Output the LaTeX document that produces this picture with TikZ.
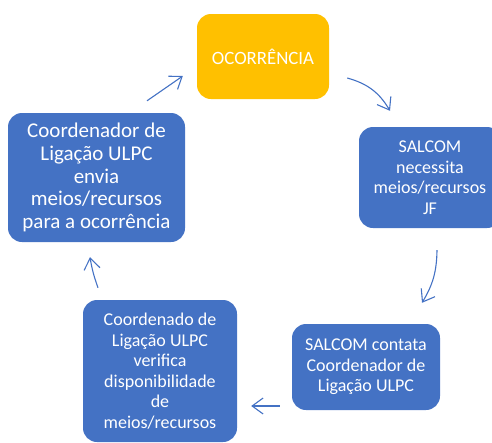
\documentclass[tikz,border=0pt]{standalone}
\usepackage{fontspec}
\setmainfont{Carlito}
\usetikzlibrary{arrows.meta}

\definecolor{officeblue}{HTML}{4472C4}
\definecolor{officegold}{HTML}{FFC000}

\tikzset{
    stage/.style={rectangle, rounded corners=14pt, fill=officeblue, text=white,
        align=center, inner sep=0pt, font=\fontsize{18}{20.5}\selectfont},
    flow/.style={draw=officeblue, line width=1.1pt,
        -{Straight Barb[length=11pt, width=16pt, line width=1.1pt]}}
}

\begin{document}
\begin{tikzpicture}[x=1pt, y=-1pt]
    \useasboundingbox (0,0) rectangle (492,442);

    % Boxes of the cycle
    \node[stage, fill=officegold, minimum width=132pt, minimum height=85pt, font=\fontsize{18.8}{21}\selectfont] (ocorr) at (263,56.5) {OCORRÊNCIA};
    \node[stage, minimum width=142pt, minimum height=101pt] (necessita) at (430,177.5) {SALCOM\\necessita\\meios/recursos\\JF};
    \node[stage, minimum width=148pt, minimum height=86pt] (contata) at (366,367) {SALCOM contata\\Coordenador de\\Ligação ULPC};
    \node[stage, minimum width=154pt, minimum height=142pt] (verifica) at (160,371) {Coordenado de\\Ligação ULPC\\verifica\\disponibilidade\\de\\meios/recursos};
    \node[stage, minimum width=177pt, minimum height=129pt, font=\fontsize{21}{22.7}\selectfont] (envia) at (96.5,177.5) {Coordenador de\\Ligação ULPC\\envia\\meios/recursos\\para a ocorrência};

    % Arrows round the cycle
    \draw[flow] ([xshift=18pt, yshift=-21.5pt]ocorr.east) to[bend left=22] ([xshift=-40pt, yshift=16pt]necessita.north);
    \draw[flow] ([xshift=7pt, yshift=-22pt]necessita.south) to[bend left=15] ([xshift=56pt, yshift=21pt]contata.north);
    \draw[flow] ([xshift=-12pt, yshift=-39pt]contata.west) -- ([xshift=14pt, yshift=-35pt]verifica.east);
    \draw[flow] ([xshift=-62pt, yshift=12pt]verifica.north) to[bend left=5] ([xshift=-6.5pt, yshift=-15pt]envia.south);
    \draw[flow] ([xshift=50.5pt, yshift=12pt]envia.north) -- ([xshift=-14pt, yshift=-19.5pt]ocorr.west);
\end{tikzpicture}
\end{document}
